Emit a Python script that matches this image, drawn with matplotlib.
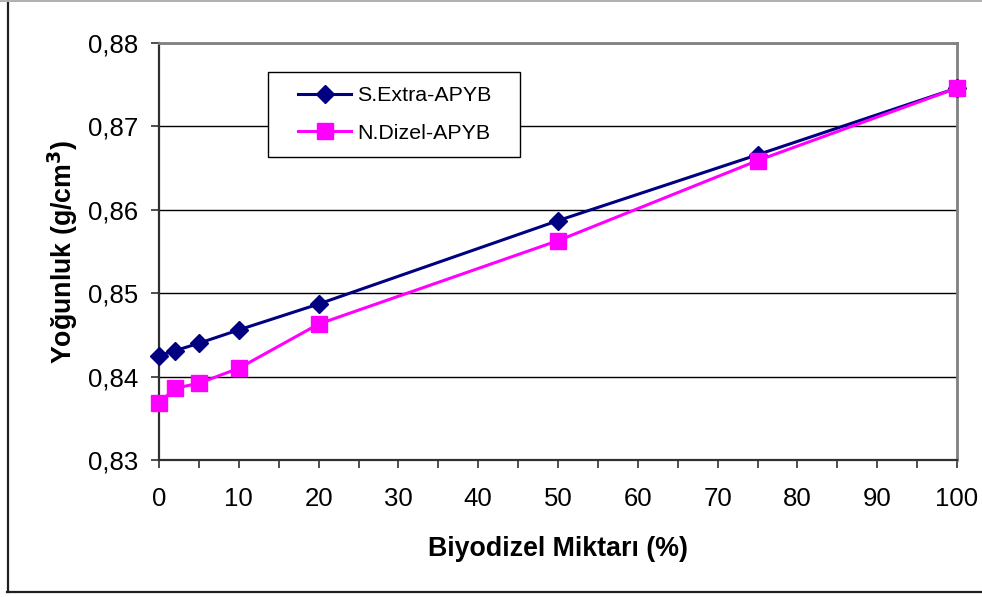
import matplotlib.pyplot as plt
import matplotlib.patches as patches
from matplotlib.lines import Line2D
from matplotlib.ticker import FuncFormatter, MultipleLocator

plt.rcParams['font.family'] = ['Liberation Sans', 'DejaVu Sans']

# Biyodizel miktarı (%) ve yoğunluk değerleri
miktar = [0, 2, 5, 10, 20, 50, 75, 100]
extra_apyb = [0.8425, 0.8431, 0.8440, 0.8456, 0.8487, 0.8587, 0.8666, 0.8746]
dizel_apyb = [0.8368, 0.8386, 0.8392, 0.8410, 0.8463, 0.8563, 0.8659, 0.8746]

W, H = 982, 597
fig = plt.figure(figsize=(W / 100, H / 100), dpi=100)


def fx(px):
    return px / W


def fy(py):
    return (H - py) / H


ax = fig.add_axes([fx(159), fy(460), fx(957) - fx(159), fy(43) - fy(460)])

ax.plot(miktar, extra_apyb, color='#000080', lw=2.2, marker='D', ms=9,
        label='S.Extra-APYB', zorder=4, clip_on=False)
ax.plot(miktar, dizel_apyb, color='#ff00ff', lw=2.2, marker='s', ms=11,
        label='N.Dizel-APYB', zorder=4, clip_on=False)

ax.set_xlim(0, 100)
ax.set_ylim(0.83, 0.88)
ax.xaxis.set_major_locator(MultipleLocator(10))
ax.xaxis.set_minor_locator(MultipleLocator(5))
ax.set_yticks([0.83, 0.84, 0.85, 0.86, 0.87, 0.88])
ax.yaxis.set_major_formatter(FuncFormatter(lambda v, p: f'{v:.2f}'.replace('.', ',')))
ax.tick_params(axis='both', which='both', labelsize=18.5, width=1.2, color='#303030')
ax.tick_params(axis='y', length=6, pad=9)
ax.tick_params(axis='x', which='both', length=5.5, pad=14)

ax.grid(axis='y', color='black', lw=1)
ax.set_axisbelow(True)
for s in ['left', 'bottom']:
    ax.spines[s].set_color('#303030')
    ax.spines[s].set_linewidth(1.6)
for s in ['top', 'right']:
    ax.spines[s].set_color('#808080')
    ax.spines[s].set_linewidth(2)

ax.set_xlabel('Biyodizel Miktarı (%)', fontsize=19.3, fontweight='bold', labelpad=18)
ax.set_ylabel('Yoğunluk (g/cm$^{\\mathbf{3}}$)', fontsize=19.3, fontweight='bold', labelpad=6)

# legend box with its own frame
fig.patches.append(patches.Rectangle((fx(268), fy(157)), fx(520) - fx(268), fy(72) - fy(157),
                                     transform=fig.transFigure, facecolor='white',
                                     edgecolor='black', lw=1, zorder=5))
handles = [Line2D([], [], color='#000080', lw=2.2, marker='D', ms=9),
           Line2D([], [], color='#ff00ff', lw=2.2, marker='s', ms=11)]
leg = fig.legend(handles, ['S.Extra-APYB', 'N.Dizel-APYB'], loc='center left',
                 bbox_to_anchor=(fx(298), (fy(72) + fy(157)) / 2), frameon=False,
                 fontsize=15.4, handlelength=2.5, handletextpad=0.28,
                 labelspacing=0.85, borderpad=0, borderaxespad=0)
leg.set_zorder(6)

# outer chart frame
fig.add_artist(Line2D([fx(7.5), fx(7.5)], [fy(0), fy(592)], color='#202020', lw=1.6,
                      transform=fig.transFigure))
fig.add_artist(Line2D([fx(7), fx(982)], [fy(592), fy(592)], color='#202020', lw=1.6,
                      transform=fig.transFigure))
fig.add_artist(Line2D([fx(0), fx(982)], [fy(0.7), fy(0.7)], color='#b0b0b0', lw=1.4,
                      transform=fig.transFigure))

fig.savefig('out.png', dpi=100)
